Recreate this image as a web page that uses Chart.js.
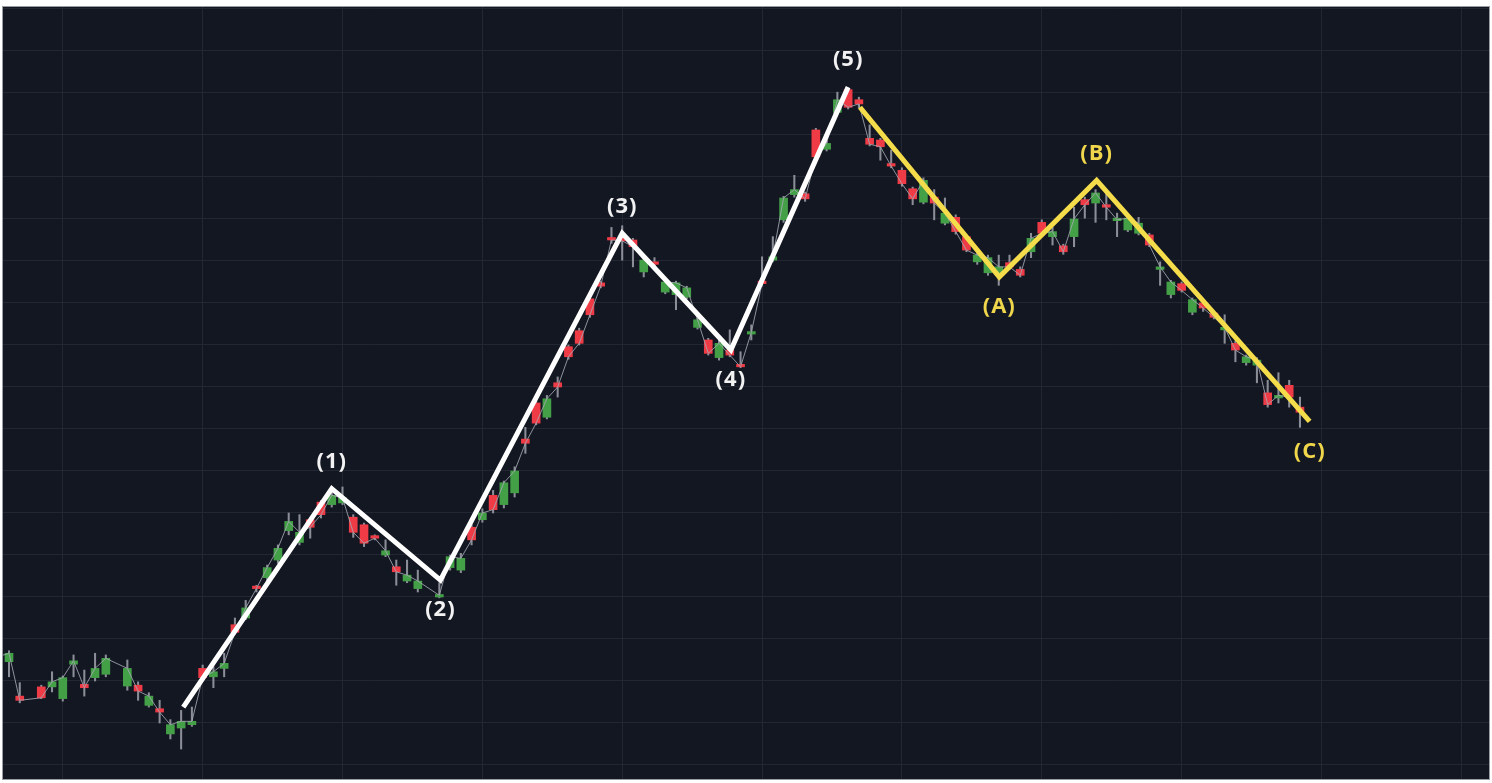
<!DOCTYPE html>
<html>
<head>
<meta charset="utf-8">
<script src="https://cdn.jsdelivr.net/npm/chart.js@4.4.1/dist/chart.umd.min.js"></script>
<style>
  html, body { margin: 0; padding: 0; background: #ffffff; }
  #wrap { position: relative; width: 1492px; height: 783px; }
</style>
</head>
<body>
<div id="wrap"><canvas id="chart"></canvas></div>
<script>
// ---- data (price units; candles indexed by trading day) ----
const firstDay = -1;
const opens = [
  111.7, 112.3, 108.2, null, 109.3, 109.3, 107.9, 112.0, 109.6, 110.4,
  110.8, null, 109.4, 109.5, 107.1, 106.7, 103.7, 104.4, 104.8, 111.5,
  110.5, 111.5, 116.7, 117.5, 121.2, 122.3, 124.4, 127.9, 126.5, 129.2,
  131.3, 131.0, 131.2, 129.5, 128.6, 127.3, 125.0, 123.6, 121.9, 121.0,
  null, 120.0, 123.5, 123.2, 128.3, 129.2, 132.1, 131.0, 132.4, 138.8,
  143.1, 141.4, 145.5, 149.8, 151.7, 155.5, 157.4, 162.7, 162.6, 162.5,
  158.7, 159.9, 156.3, 156.0, 155.7, 152.1, 150.6, 148.5, 149.4, 147.6,
  151.3, 157.6, 160.1, 164.9, 167.9, 168.0, 175.6, 173.3, 177.7, 180.4,
  179.2, 174.6, 174.4, 171.5, 170.8, 168.6, 167.0, 167.6, 164.5, 165.2,
  162.9, 159.9, 158.6, 158.6, 159.8, 159.0, 161.1, 164.6, 162.9, 161.8,
  162.9, 167.3, 166.9, 166.7, 164.8, 163.7, 163.3, 163.1, 159.0, 156.0,
  157.3, 153.9, 155.0, 153.8, 151.8, 150.2, 147.9, 147.6, 144.3, 143.7,
  145.2, 142.6
];
const closes = [
  112.9, 113.3, 107.7, null, 108.0, 109.9, 110.4, 112.4, 109.2, 111.5,
  112.7, null, 111.5, 108.8, 108.2, 106.3, 104.8, 105.2, 105.2, 110.4,
  111.1, 112.1, 115.8, 118.7, 121.0, 123.5, 125.8, 129.0, 127.7, 128.3,
  129.8, 132.1, 131.8, 127.7, 126.4, 127.0, 125.5, 123.0, 122.6, 121.9,
  null, 120.2, 124.8, 124.6, 126.8, 130.0, 130.4, 133.6, 135.0, 138.3,
  140.7, 143.6, 145.0, 148.6, 150.2, 153.6, 157.0, 162.5, 162.4, 161.7,
  160.1, 159.6, 157.5, 157.4, 156.8, 153.0, 149.0, 150.2, 148.8, 147.4,
  151.5, 157.3, 160.5, 167.5, 168.5, 167.4, 172.4, 174.0, 179.2, 178.3,
  178.7, 173.9, 173.6, 171.3, 169.2, 167.4, 169.6, 166.9, 165.7, 163.5,
  161.3, 160.7, 160.4, 159.3, 159.3, 158.3, 162.7, 163.3, 163.5, 161.1,
  165.0, 166.7, 168.1, 166.4, 164.9, 165.1, 164.5, 161.9, 159.3, 157.5,
  156.5, 155.4, 154.4, 153.3, 152.1, 149.4, 148.6, 148.2, 142.9, 144.0,
  143.8, 142.0
];
const highs = [
  113.2, 113.6, 109.8, null, 109.5, 111.1, 110.6, 113.1, 111.3, 113.3,
  113.1, null, 112.5, 109.9, 108.6, 107.7, 105.4, 106.5, 106.9, 111.9,
  111.7, 113.3, 117.5, 119.6, 121.4, 123.8, 126.2, 130.0, 129.8, 129.4,
  131.5, 133.1, 133.1, 129.8, 128.8, 127.4, 126.8, 124.4, 124.4, 123.2,
  null, 121.7, 125.0, 125.2, 128.6, 130.5, 132.7, 133.8, 135.5, 140.2,
  143.5, 144.0, 146.2, 150.0, 152.0, 155.8, 157.6, 164.0, 164.2, 162.7,
  160.7, 160.4, 157.7, 157.6, 157.0, 153.2, 150.8, 150.6, 151.8, 149.2,
  152.4, 160.5, 162.9, 167.7, 170.2, 168.2, 175.8, 174.3, 180.1, 180.6,
  179.5, 176.2, 174.6, 173.2, 171.1, 168.8, 169.9, 168.5, 167.5, 165.5,
  163.1, 161.0, 160.7, 160.7, 160.7, 159.3, 163.3, 164.9, 164.0, 162.0,
  166.4, 167.6, 168.5, 168.5, 165.7, 165.5, 165.2, 163.3, 159.9, 157.7,
  157.5, 155.6, 155.4, 154.0, 153.6, 150.5, 148.8, 148.5, 145.8, 146.7,
  145.8, 143.8
];
const lows = [
  111.4, 110.5, 107.4, null, 107.9, 108.7, 107.6, 110.5, 108.2, 110.0,
  110.5, null, 108.9, 107.7, 106.9, 105.0, 103.1, 101.9, 104.6, 110.1,
  109.2, 110.5, 115.6, 117.3, 120.6, 121.8, 124.0, 127.4, 126.2, 127.0,
  129.4, 130.7, 131.0, 127.1, 126.0, 126.8, 124.8, 121.4, 121.7, 120.6,
  null, 119.9, 123.2, 122.9, 126.2, 128.9, 130.0, 130.6, 131.9, 137.1,
  140.5, 141.2, 143.8, 148.3, 150.0, 153.3, 156.8, 162.1, 160.1, 159.3,
  158.1, 159.4, 156.1, 154.2, 155.5, 151.9, 148.8, 148.2, 148.6, 147.3,
  150.6, 157.0, 159.9, 164.6, 167.6, 167.1, 172.1, 173.1, 177.5, 178.1,
  178.2, 173.7, 172.0, 171.1, 168.9, 166.7, 166.8, 164.9, 164.3, 163.2,
  161.1, 159.6, 158.3, 157.1, 159.0, 158.1, 160.4, 163.1, 161.9, 160.8,
  161.7, 165.1, 164.6, 164.9, 162.9, 163.5, 163.1, 161.7, 157.1, 155.6,
  156.3, 153.6, 154.0, 153.1, 150.2, 148.0, 147.6, 145.5, 142.6, 143.1,
  142.6, 140.2
];

// Elliott impulse wave pivots (day, price) and labels
const impulseDays   = [16.2, 30.0, 40.1, 57.0, 67.1, 78.0];
const impulsePrices = [106.9, 132.9, 122.0, 163.3, 149.4, 180.7];
const impulseLabels = ['(1)', '(2)', '(3)', '(4)', '(5)'];

// Corrective wave pivots and labels
const correctionDays   = [79.1, 92.05, 101.1, 120.9];
const correctionPrices = [178.3, 158.1, 169.6, 140.9];
const correctionLabels = ['(A)', '(B)', '(C)'];

// axis ranges and grid ticks
const dayRange   = [-0.558, 137.572];
const priceRange = [98.333, 190.238];
const dayGrid   = [5, 18, 31, 44, 57, 70, 83, 96, 109, 122, 135];
const priceGrid = [100, 105, 110, 115, 120, 125, 130, 135, 140, 145, 150, 155, 160, 165, 170, 175, 180, 185, 190];

// ---- styles ----
const BG = '#131722';
const GRID = '#232734';
const UP = '#43a047';
const DOWN = '#ef3b46';
const WICK = '#8b8e97';
const CLOSE_LINE = 'rgba(165,168,178,0.85)';
const IMPULSE = '#ffffff';
const CORRECTION = '#f4dc4a';
const IMPULSE_TEXT = '#f2f2f2';
const CORRECTION_TEXT = '#f0d64a';

// ---- build datasets ----
const days = opens.map((_, k) => firstDay + k);
const present = days.map((_, k) => opens[k] !== null);
const bodyData = [], wickData = [], closeData = [];
days.forEach((d, k) => {
  if (!present[k]) return;
  bodyData.push({ x: d, y: [opens[k], closes[k]], up: closes[k] >= opens[k] });
  wickData.push({ x: d, y: [lows[k], highs[k]] });
  closeData.push({ x: d, y: closes[k] });
});
const impulseData = impulseDays.map((d, k) => ({ x: d, y: impulsePrices[k] }));
const correctionData = correctionDays.map((d, k) => ({ x: d, y: correctionPrices[k] }));

const bgPlugin = {
  id: 'bg',
  beforeDraw(chart) {
    const { ctx, chartArea: a } = chart;
    ctx.save();
    ctx.fillStyle = BG;
    ctx.fillRect(a.left, a.top, a.right - a.left, a.bottom - a.top);
    ctx.strokeStyle = '#9a9da4';
    ctx.lineWidth = 1;
    ctx.strokeRect(a.left - 0.5, a.top - 0.5, a.right - a.left + 1, a.bottom - a.top + 1);
    ctx.restore();
  }
};

function drawWaveLabels(chart, daysArr, pricesArr, labels, color) {
  const { ctx } = chart;
  const xs = chart.scales.x, ys = chart.scales.y;
  ctx.save();
  ctx.font = '700 22px "Open Sans", "Noto Sans", sans-serif';
  try { ctx.letterSpacing = '1px'; } catch (e) {}
  ctx.fillStyle = color;
  ctx.textAlign = 'center';
  ctx.textBaseline = 'middle';
  labels.forEach((lab, j) => {
    const k = j + 1;
    const prev = pricesArr[k - 1];
    const isPeak = pricesArr[k] > prev;
    const px = xs.getPixelForValue(daysArr[k]);
    const py = ys.getPixelForValue(pricesArr[k]) + (isPeak ? -27 : 30);
    ctx.fillText(lab, px, py);
  });
  ctx.restore();
}

const labelPlugin = {
  id: 'waveLabels',
  afterDatasetsDraw(chart) {
    drawWaveLabels(chart, impulseDays, impulsePrices, impulseLabels, IMPULSE_TEXT);
    drawWaveLabels(chart, correctionDays, correctionPrices, correctionLabels, CORRECTION_TEXT);
  }
};

new Chart(document.getElementById('chart'), {
  type: 'bar',
  data: {
    datasets: [
      {
        type: 'bar', data: wickData, grouped: false, order: 5,
        backgroundColor: WICK, barThickness: 1.4, borderWidth: 0
      },
      {
        type: 'bar', data: bodyData, grouped: false, order: 4,
        backgroundColor: c => (c.raw && c.raw.up ? UP : DOWN),
        barThickness: 8, borderWidth: 0, minBarLength: 2.5
      },
      {
        type: 'line', data: closeData, order: 3,
        borderColor: CLOSE_LINE, borderWidth: 1, pointRadius: 0, tension: 0
      },
      {
        type: 'line', data: impulseData, order: 2,
        borderColor: IMPULSE, borderWidth: 5, pointRadius: 0, tension: 0,
        borderJoinStyle: 'miter', borderCapStyle: 'butt'
      },
      {
        type: 'line', data: correctionData, order: 1,
        borderColor: CORRECTION, borderWidth: 5, pointRadius: 0, tension: 0,
        borderJoinStyle: 'miter', borderCapStyle: 'butt'
      }
    ]
  },
  options: {
    responsive: true,
    maintainAspectRatio: false,
    animation: false,
    events: [],
    layout: { padding: { left: 3, right: 3, top: 7, bottom: 4 } },
    plugins: { legend: { display: false }, tooltip: { enabled: false } },
    scales: {
      x: {
        type: 'linear', min: dayRange[0], max: dayRange[1], offset: false,
        grid: { color: GRID, lineWidth: 1, drawTicks: false, offset: false },
        border: { display: false },
        ticks: { display: false },
        afterBuildTicks: s => { s.ticks = dayGrid.map(v => ({ value: v })); }
      },
      y: {
        type: 'linear', min: priceRange[0], max: priceRange[1],
        grid: { color: GRID, lineWidth: 1, drawTicks: false },
        border: { display: false },
        ticks: { display: false },
        afterBuildTicks: s => { s.ticks = priceGrid.map(v => ({ value: v })); }
      }
    }
  },
  plugins: [bgPlugin, labelPlugin]
});
</script>
</body>
</html>
